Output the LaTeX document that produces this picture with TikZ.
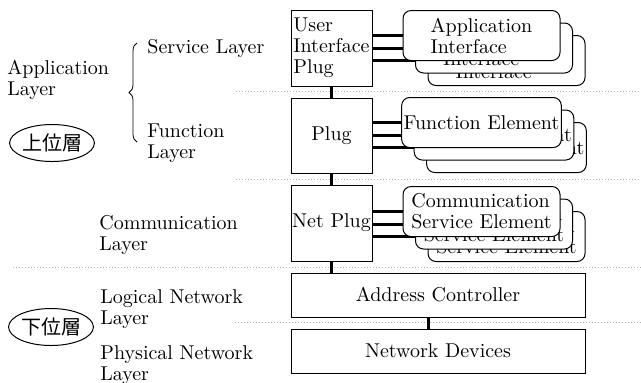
\documentclass[tikz,border=0pt]{standalone}
\usepackage{fontspec}
\newfontfamily\cjk{Noto Sans CJK JP}
\usetikzlibrary{positioning,shapes.geometric,decorations.pathreplacing,backgrounds}

\tikzset{
	plugbox/.style={draw,line width=0.5pt,fill=white,minimum width=40.5pt,inner sep=0.5pt,align=left},
	elembox/.style={draw,line width=0.5pt,fill=white,rounded corners=4pt,minimum width=78.5pt,minimum height=25pt,inner sep=1pt,align=left},
	basebox/.style={draw,line width=0.5pt,fill=white,minimum width=147pt,minimum height=22pt},
	bus/.style={line width=1.5pt},
	sep/.style={gray!60,densely dotted,line width=0.5pt},
	tag/.style={draw,ellipse,line width=0.5pt,minimum width=41.5pt,minimum height=18.5pt,inner sep=0pt,font=\cjk},
	lbl/.style={anchor=west,align=left,inner sep=0pt}
}

\begin{document}
\begin{tikzpicture}[x=0.5pt,y=-0.5pt,every node/.style={font=\fontsize{10}{10.5}\selectfont}]
\useasboundingbox (0,0) rectangle (641,382);
% plugs
\node[plugbox,minimum height=38pt] (uip) at (331.5,48) {User\\Interface\\Plug};
\node[plugbox,minimum height=37.5pt] (plug) at (331.5,135.5) {Plug};
\node[plugbox,minimum height=38pt] (np) at (331.5,223) {Net Plug};
% stacked elements
\foreach \n/\y/\t in {app/35.5/{Application\\Interface},func/122.5/{Function Element},comm/211.5/{Communication\\Service Element}}
	\foreach \i in {2,1,0}
		\node[elembox] (\n\i) at (481.5+12.5*\i,\y+12.5*\i) {\t};
\node[basebox] (acon) at (438,295) {Address Controller};
\node[basebox] (netdev) at (438,351) {Network Devices};
% layer names
\node[lbl] (svc) at (147,48) {Service Layer};
\node[lbl] (fnc) at (147,143) {Function\\Layer};
\node[lbl] (apl) at (7,80) {Application\\Layer};
\node[tag] (upper) at (52,143) {上位層};
\node[lbl] (com) at (99,235) {Communication\\Layer};
\node[lbl] (lgc) at (100,309) {Logical Network\\Layer};
\node[lbl] (phy) at (100,365) {Physical Network\\Layer};
\node[tag] (lower) at (51,327) {下位層};
\draw[decorate,decoration={brace,amplitude=4pt}](137,142)--(137,43);
\begin{scope}[on background layer]
\foreach \y/\a in {91/236,179/236,267/13,322/235}
	\draw[sep](\a,\y)--(641,\y);
\foreach \p/\n in {uip/app,plug/func,np/comm}
	\foreach \i in {0,1,2}
		\draw[bus](\p.east |- \n\i.west)--(\n\i.west);
\draw[bus](uip)--(plug);
\draw[bus](plug)--(np);
\draw[bus](np.south)--(np.south |- acon.north);
\draw[bus]([xshift=-5pt]acon.south)--([xshift=-5pt]netdev.north);
\end{scope}
\end{tikzpicture}
\end{document}
